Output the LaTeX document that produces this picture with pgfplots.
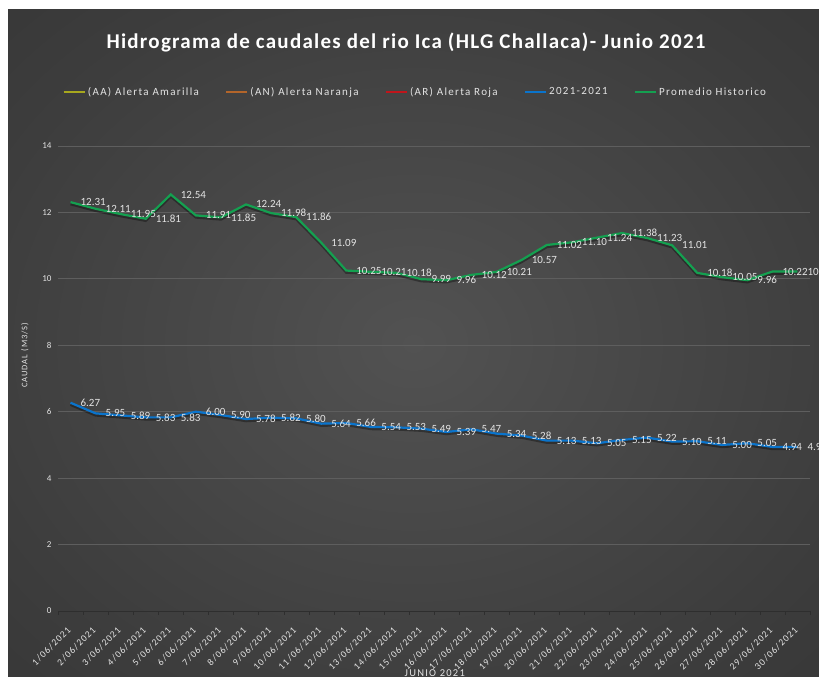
\documentclass[border=0pt]{standalone}
\usepackage{fontspec}
\setmainfont{Carlito}
\newfontfamily\wide[LetterSpace=12]{Carlito}
\newfontfamily\semiwide[LetterSpace=6]{Carlito}
\usepackage{pgfplots}
\usepackage{pgfplotstable}
\pgfplotsset{compat=1.18}

\definecolor{bgin}{HTML}{525252}
\definecolor{bgmid}{HTML}{3D3D3D}
\definecolor{bgout}{HTML}{222222}
\definecolor{aa}{HTML}{A8A81E}
\definecolor{an}{HTML}{B3652A}
\definecolor{ar}{HTML}{C0151B}
\definecolor{serie}{HTML}{0A74CC}
\definecolor{prom}{HTML}{14A050}
\definecolor{txt}{HTML}{E4E4E4}
\definecolor{gridc}{HTML}{5E5E5E}
\pgfdeclareradialshading{chartbg}{\pgfpoint{0bp}{0bp}}{color(0bp)=(bgin); color(28bp)=(bgmid); color(72bp)=(bgout)}

% caudal 2021 (m3/s)
\pgfplotstableread{
dia q
1 6.27
2 5.95
3 5.89
4 5.83
5 5.83
6 6.00
7 5.90
8 5.78
9 5.82
10 5.80
11 5.64
12 5.66
13 5.54
14 5.53
15 5.49
16 5.39
17 5.47
18 5.34
19 5.28
20 5.13
21 5.13
22 5.05
23 5.15
24 5.22
25 5.10
26 5.11
27 5.00
28 5.05
29 4.94
30 4.94
}\actual

% promedio historico
\pgfplotstableread{
dia q
1 12.31
2 12.11
3 11.95
4 11.81
5 12.54
6 11.91
7 11.85
8 12.24
9 11.98
10 11.86
11 11.09
12 10.25
13 10.21
14 10.18
15 9.99
16 9.96
17 10.12
18 10.21
19 10.57
20 11.02
21 11.10
22 11.24
23 11.38
24 11.23
25 11.01
26 10.18
27 10.05
28 9.96
29 10.22
30 10.22
}\historico

\begin{document}
\begin{tikzpicture}[x=1pt,y=1pt]
\fill[white] (0,0) rectangle (819,677);
\shade[shading=chartbg] (8,0) rectangle (819,667);
\node[text=white, font=\semiwide\fontsize{21}{25}\selectfont\bfseries] at (406,635)
  {Hidrograma de caudales del rio Ica (HLG Challaca)- Junio 2021};

\begin{axis}[
    at={(58pt,66pt)}, anchor=south west,
    scale only axis, width=752pt, height=465pt,
    xmin=0.5, xmax=30.5, ymin=0, ymax=14,
    ytick={0,2,...,14},
    xtick={1,...,30},
    xticklabels={1/06/2021,2/06/2021,3/06/2021,4/06/2021,5/06/2021,6/06/2021,7/06/2021,8/06/2021,9/06/2021,10/06/2021,11/06/2021,12/06/2021,13/06/2021,14/06/2021,15/06/2021,16/06/2021,17/06/2021,18/06/2021,19/06/2021,20/06/2021,21/06/2021,22/06/2021,23/06/2021,24/06/2021,25/06/2021,26/06/2021,27/06/2021,28/06/2021,29/06/2021,30/06/2021},
    minor xtick={0.5,1.5,...,30.5},
    major tick length=0pt, minor tick length=4pt,
    tick align=outside,
    minor tick style={gridc!130},
    axis x line*=bottom, axis y line*=left,
    x axis line style={draw=gridc!130, -},
    y axis line style={draw=none},
    ymajorgrids, grid style={gridc, line width=0.8pt},
    /pgf/number format/assume math mode=true,
    yticklabel style={text=txt, font=\fontsize{9}{10}\selectfont, xshift=-3pt},
    xticklabel style={text=txt, font=\wide\fontsize{9.5}{11}\selectfont, xshift=1pt, yshift=-15pt, rotate=45, anchor=east},
    ylabel={CAUDAL (M3/S)},
    ylabel style={text=txt, font=\wide\fontsize{8.5}{10}\selectfont, at={(axis description cs:-0.044,0.55)}, anchor=center},
    xlabel={JUNIO 2021},
    xlabel style={text=txt, font=\wide\fontsize{10.5}{12}\selectfont, at={(axis description cs:0.501,-0.134)}, anchor=center},
    legend columns=5,
    legend style={at={(0.475,1.116)}, anchor=center, draw=none, fill=none,
        text=txt, font=\wide\fontsize{11}{13}\selectfont,
        /tikz/every even column/.append style={column sep=24pt}},
    legend image code/.code={\draw[#1, line width=2.5pt] (0pt,0pt) -- (21pt,0pt);},
    every node near coord/.append style={text=txt, font=\fontsize{11}{13}\selectfont, anchor=west, xshift=8pt, inner sep=1pt},
]
\addlegendimage{aa}
\addlegendentry{(AA) Alerta Amarilla}
\addlegendimage{an}
\addlegendentry{(AN) Alerta Naranja}
\addlegendimage{ar}
\addlegendentry{(AR) Alerta Roja}

% sombra
\addplot[black, opacity=0.35, line width=2.5pt, yshift=-2pt, forget plot] table[x=dia,y=q] {\actual};
\addplot[black, opacity=0.35, line width=2.5pt, yshift=-2pt, forget plot] table[x=dia,y=q] {\historico};

\addplot[serie, line width=2.2pt, mark=none,
    nodes near coords={\pgfmathprintnumber[fixed,fixed zerofill,precision=2]{\pgfplotspointmeta}},
    point meta=y] table[x=dia,y=q] {\actual};
\addlegendentry{2021-2021}
\addplot[prom, line width=2.2pt, mark=none,
    nodes near coords={\pgfmathprintnumber[fixed,fixed zerofill,precision=2]{\pgfplotspointmeta}},
    point meta=y] table[x=dia,y=q] {\historico};
\addlegendentry{Promedio Historico}
\end{axis}
\pgfresetboundingbox
\path[use as bounding box] (0,0) rectangle (819,677);
\end{tikzpicture}
\end{document}
